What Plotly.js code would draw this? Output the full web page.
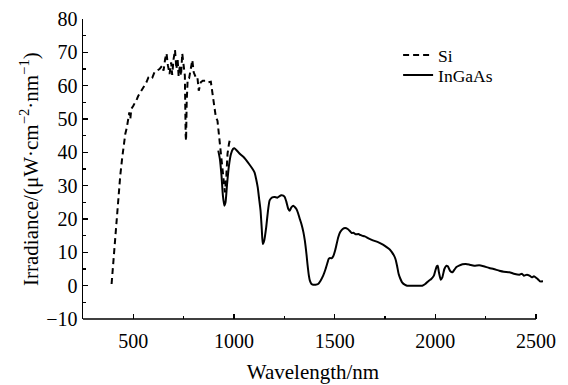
<!DOCTYPE html>
<html>
<head>
<meta charset="utf-8">
<script src="https://cdn.plot.ly/plotly-3.0.1.min.js"></script>
<style>html,body{margin:0;padding:0;background:#fff;}#chart{width:568px;height:385px;}</style>
</head>
<body>
<div id="chart"></div>
<script>
// Si (dashed) spectrum
const siWavelength = [392,398,405,413,420,427,435,445,452,460,468,475,480,485,490,500,510,518,525,535,545,555,565,575,585,595,605,618,630,643,650,658,665,672,680,688,693,700,707,714,720,725,731,737,743,750,756,760,762,765,770,777,785,793,800,810,818,825,835,845,860,870,885,893,902,910,918,925,932,940,948,955,962,968,975,982];
const siIrradiance = [0.5,5,10,17,23,28,33,38.5,42,45.5,47.5,50,52,50,53,54,55,56,57,58,59,60,61,62.5,63,62.5,64,64.5,65,66,64.5,68,69.7,66,63.5,67,63.2,68,70.7,65,68,62.8,66,63,69.7,66,63,45,43.5,55,62,62.2,65,67.7,64,62.5,62.7,58.5,61,61.5,61.5,61,61.2,57.5,55,50.5,49.5,45.5,40.6,35.5,31.5,28,33,39.6,42.5,44.5];

// InGaAs (solid) spectrum
const ingaasWavelength = [922,930,938,945,952,958,965,975,985,995,1002,1015,1030,1052,1075,1090,1102,1110,1118,1125,1132,1138,1143,1150,1160,1168,1177,1190,1202,1215,1225,1235,1245,1252,1260,1270,1277,1285,1295,1302,1310,1318,1327,1335,1345,1352,1360,1365,1372,1377,1385,1393,1405,1418,1430,1443,1455,1465,1470,1477,1485,1493,1502,1510,1518,1527,1540,1552,1565,1577,1585,1593,1605,1618,1628,1635,1650,1668,1690,1718,1740,1760,1775,1785,1795,1802,1810,1818,1827,1835,1848,1860,1900,1935,1950,1968,1980,1993,2000,2007,2012,2018,2027,2035,2045,2055,2062,2075,2085,2095,2105,2118,2135,2152,2170,2193,2218,2240,2268,2290,2318,2340,2368,2390,2418,2430,2440,2455,2468,2480,2490,2502,2512,2520,2535];
const ingaasIrradiance = [40.5,38,33,27,24,25,30,36,39.5,41,41.2,40.5,39.5,38.3,36.5,35.2,34,32,29.5,26,22.5,17,12.5,13.5,17.5,22,25.6,26.5,26.6,26.4,26.8,27.1,27,26.6,25.2,23,22.5,23.5,24,23.6,23,21.8,20,18.5,16,13.5,9.5,6.5,3,1.5,0.5,0.3,0.3,0.5,1.5,3,5,7,8,8.3,8.2,8.8,10.5,12.5,14.5,16,17,17.3,17,16.3,15.8,15.9,15.4,15.5,15.2,15,14.8,14.2,13.6,13,12.3,11.5,10.8,10,9,8,6,3.5,2,1,0.3,0,0,0,0.5,1.5,2,3,4.5,5.8,6,4,1.8,2.5,5,6,5.8,4.3,4,4.8,5.6,6,6.4,6.5,6.3,6,6.1,5.8,5.3,5,4.5,4.2,4,3.6,3.3,3.6,3,3.3,3,2.5,2.8,2.3,1.8,1.3,1.3];

const xTickVals = [500,1000,1500,2000,2500];
const yTickVals = [-10,0,10,20,30,40,50,60,70,80];

const fam = '"Liberation Serif", "Times New Roman", serif';
const tickFont = {family: fam, size: 20, color: '#000'};
const titleFont = {family: fam, size: 21, color: '#000'};
const legendFont = {family: fam, size: 17.5, color: '#000'};

const traces = [
  {x: siWavelength, y: siIrradiance, name: 'Si', mode: 'lines', legend: 'legend',
   line: {color: '#000', width: 2, dash: '6px,4px', shape: 'linear'}},
  {x: ingaasWavelength, y: ingaasIrradiance, name: 'InGaAs', mode: 'lines', legend: 'legend2',
   line: {color: '#000', width: 2, shape: 'spline', smoothing: 0.5}}
];

const layout = {
  width: 568, height: 385,
  margin: {l: 83, r: 25, t: 19, b: 66},
  paper_bgcolor: '#fff', plot_bgcolor: '#fff',
  font: tickFont,
  showlegend: true,
  legend: {x: 0.685, y: 0.88, xanchor: 'left', yanchor: 'middle', font: legendFont,
           bgcolor: 'rgba(0,0,0,0)'},
  legend2: {x: 0.685, y: 0.813, xanchor: 'left', yanchor: 'middle', font: legendFont,
           bgcolor: 'rgba(0,0,0,0)'},
  xaxis: {
    range: [250, 2535], showline: false, zeroline: false, showgrid: false,
    tickvals: xTickVals, ticks: 'inside', ticklen: 5, tickwidth: 1.5, tickcolor: '#000',
    ticklabelstandoff: 8,
    minor: {dtick: 250, tick0: 250, ticks: 'inside', ticklen: 3, tickcolor: '#000', showgrid: false},
    tickfont: tickFont,
    title: {text: 'Wavelength/nm', font: titleFont, standoff: 13}
  },
  yaxis: {
    range: [-10, 80], showline: true, linecolor: '#000', linewidth: 1.5,
    zeroline: false, showgrid: false,
    tickvals: yTickVals, ticks: 'inside', ticklen: 5, tickwidth: 1.5, tickcolor: '#000',
    minor: {dtick: 5, ticks: 'inside', ticklen: 3, tickcolor: '#000', showgrid: false},
    tickfont: tickFont,
    title: {text: ''}
  },
  shapes: [
    {type: 'line', xref: 'x', yref: 'paper', x0: 250, x1: 2500, y0: 0, y1: 0,
     line: {color: '#000', width: 1.5}}
  ],
  annotations: [
    {text: 'Irradiance/(μW·cm<sup>−2</sup>·nm<sup>−1</sup>)', textangle: -90,
     xref: 'paper', yref: 'paper', x: 0, y: 0.5, xanchor: 'center', yanchor: 'middle',
     xshift: -54, showarrow: false, font: titleFont}
  ]
};

Plotly.newPlot('chart', traces, layout, {displayModeBar: false, staticPlot: true});
</script>
</body>
</html>
